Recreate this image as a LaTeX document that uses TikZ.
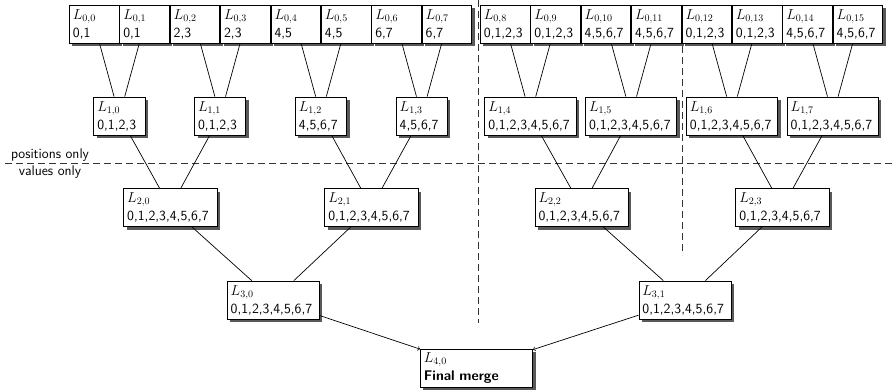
\documentclass[tikz,border=0pt]{standalone}
\usetikzlibrary{shadows}
\begin{document}
\begin{tikzpicture}[x=1pt,y=-1pt,
  every node/.style={font=\fontsize{14}{18}\selectfont\sffamily},
  nbox/.style={draw, fill=white, line width=0.8pt, inner xsep=3.5pt, inner ysep=0pt,
    minimum height=38pt, align=left, text width=#1,
    drop shadow={shadow xshift=3pt, shadow yshift=-3pt, fill=black!65, opacity=1}},
  conn/.style={line width=0.7pt},
  sep/.style={dashed, dash pattern=on 7pt off 4pt, line width=1pt, black!80},
  lbl/.style={inner sep=0pt}]
\useasboundingbox (0,0) rectangle (895,389);
% separators
\coordinate (v1a) at (478,0);
\coordinate (v1b) at (478,323);
\coordinate (v2a) at (682,46);
\coordinate (v2b) at (682,255);
\coordinate (ha) at (5,163);
\coordinate (hb) at (895,163);
\draw[sep] (v1a) -- (v1b);
\draw[sep] (v2a) -- (v2b);
\draw[sep] (ha) -- (hb);
\node[lbl] (pos) at (50,155) {positions only};
\node[lbl] (val) at (50,172) {values only};
% level 0
\foreach \i/\t in {0/{0,1},1/{0,1},2/{2,3},3/{2,3},4/{4,5},5/{4,5},6/{6,7},7/{6,7}}
  \node[nbox=42.6pt] (l0-\i) at ({94.2+50.4*\i},24) {$L_{0,\i}$\\\t};
\foreach \i/\t in {8/{0,1,2,3},9/{0,1,2,3},10/{4,5,6,7},11/{4,5,6,7},12/{0,1,2,3},13/{0,1,2,3},14/{4,5,6,7},15/{4,5,6,7}}
  \node[nbox=42.6pt] (l0-\i) at ({505.2+50.4*(\i-8)},24) {$L_{0,\i}$\\\t};
% level 1
\foreach \i/\t in {0/{0,1,2,3},1/{0,1,2,3},2/{4,5,6,7},3/{4,5,6,7}}
  \node[nbox=44.2pt] (l1-\i) at ({119.4+100.8*\i},116) {$L_{1,\i}$\\\t};
\foreach \i in {4,...,7}
  \node[nbox=84.2pt] (l1-\i) at ({530.4+100.8*(\i-4)},116) {$L_{1,\i}$\\0,1,2,3,4,5,6,7};
% level 2
\foreach \i/\x in {0/170.3,1/371.4,2/581.6,3/782.4}
  \node[nbox=86.2pt] (l2-\i) at (\x,207.5) {$L_{2,\i}$\\0,1,2,3,4,5,6,7};
% level 3
\node[nbox=85.2pt] (l3-0) at (273.3,300) {$L_{3,0}$\\0,1,2,3,4,5,6,7};
\node[nbox=85.2pt] (l3-1) at (685,300) {$L_{3,1}$\\0,1,2,3,4,5,6,7};
% level 4
\node[nbox=105.2pt] (l4-0) at (476.5,368) {$L_{4,0}$\\\textbf{Final merge}};
% connectors
\foreach \i in {0,...,7}{
  \pgfmathtruncatemacro\a{2*\i}
  \pgfmathtruncatemacro\b{2*\i+1}
  \draw[conn] (l0-\a) -- (l1-\i);
  \draw[conn] (l0-\b) -- (l1-\i);
}
\foreach \i in {0,...,3}{
  \pgfmathtruncatemacro\a{2*\i}
  \pgfmathtruncatemacro\b{2*\i+1}
  \draw[conn] (l1-\a) -- (l2-\i);
  \draw[conn] (l1-\b) -- (l2-\i);
}
\foreach \i in {0,1}{
  \pgfmathtruncatemacro\a{2*\i}
  \pgfmathtruncatemacro\b{2*\i+1}
  \draw[conn] (l2-\a) -- (l3-\i);
  \draw[conn] (l2-\b) -- (l3-\i);
}
\draw[conn,->] (l3-0) -- (l4-0);
\draw[conn,->] (l3-1) -- (l4-0);
\end{tikzpicture}
\end{document}
